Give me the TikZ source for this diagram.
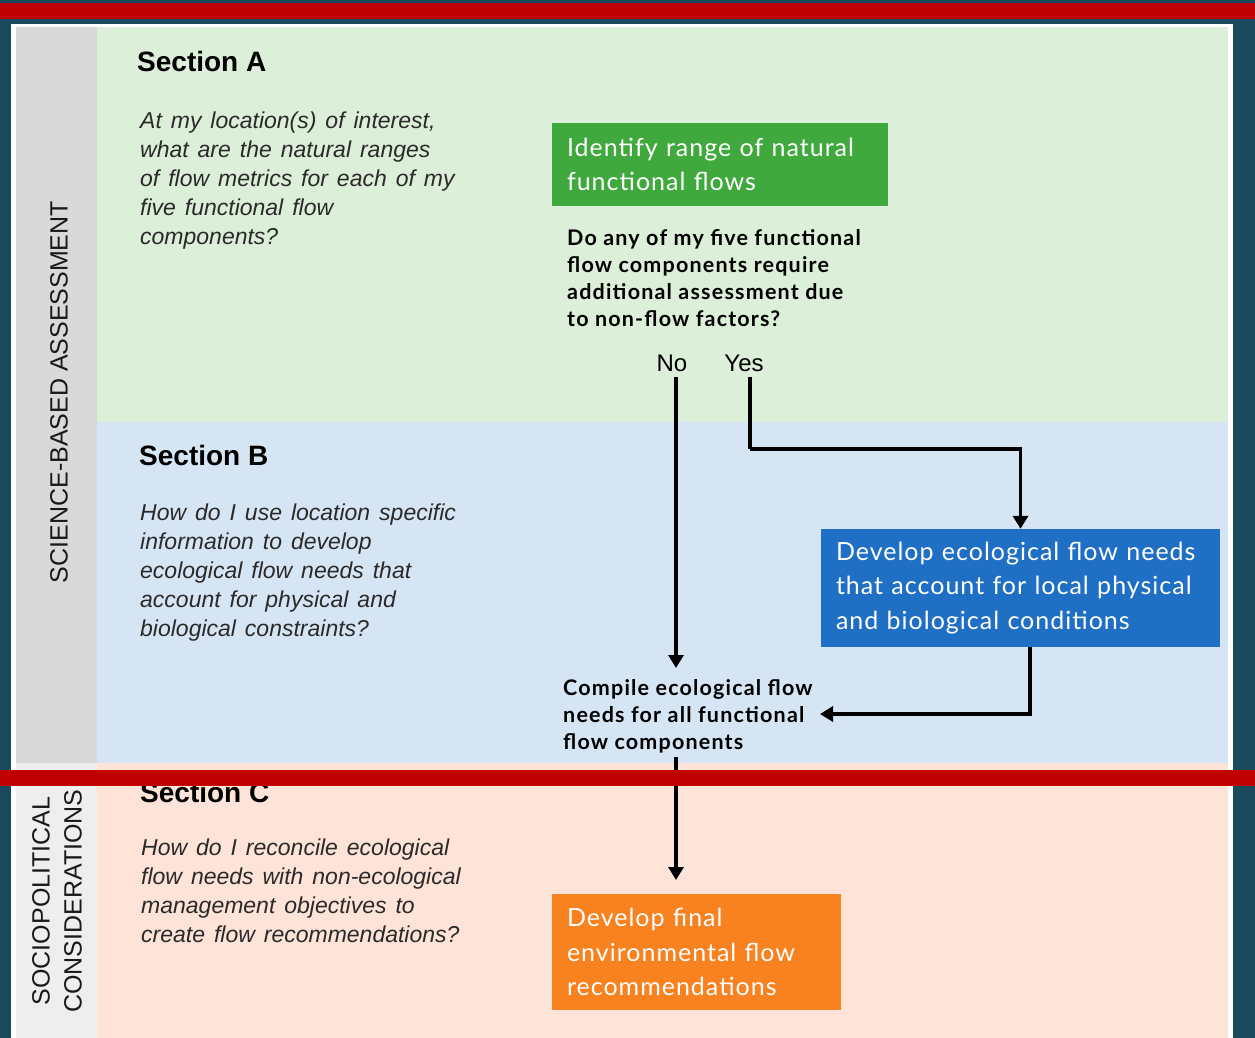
\documentclass[tikz,border=0pt]{standalone}
\usepackage{fontspec}
\setmainfont{Liberation Sans}
\newfontfamily\itfont{Liberation Sans}[WordSpace=1.4]
\newfontfamily\latofont{Lato}[LetterSpace=4]
\newfontfamily\latobold{Lato Bold}[LetterSpace=5.5]
\usetikzlibrary{arrows.meta}
\definecolor{bgteal}{HTML}{1B4A5E}
\definecolor{barred}{HTML}{C00000}
\definecolor{colgray}{HTML}{D9D9D9}
\definecolor{colgraylt}{HTML}{EEEEEF}
\definecolor{secA}{HTML}{DCEFD8}
\definecolor{secB}{HTML}{D6E5F4}
\definecolor{secC}{HTML}{FDE3D8}
\definecolor{boxgreen}{HTML}{40A93E}
\definecolor{boxblue}{HTML}{1F6FC5}
\definecolor{boxorange}{HTML}{F7821F}
\definecolor{txtgray}{HTML}{2A2A2A}
\begin{document}
\begin{tikzpicture}[x=1pt,y=-1pt,
  arr/.style={line width=3.6pt,-{Triangle[width=15pt,length=13pt]}},
  heading/.style={anchor=base west,inner sep=0pt,font=\fontsize{28}{32}\selectfont\bfseries},
  question/.style={anchor=north west,inner sep=0pt,align=left,text=txtgray,font=\itfont\fontsize{23}{29}\selectfont\itshape},
  decision/.style={anchor=north west,inner sep=0pt,align=left,font=\latobold\fontsize{21.5}{27}\selectfont},
  stepbox/.style={inner xsep=15pt,inner ysep=0pt,align=left,text=white,font=\latofont\fontsize{25}{34.5}\selectfont},
  sidelabel/.style={rotate=90,align=center,inner sep=0pt,text=black!90,font=\fontsize{25}{32}\selectfont},
  yesno/.style={anchor=base,inner sep=0pt,font=\fontsize{24}{28}\selectfont}]
\useasboundingbox (0,0) rectangle (1255,1038);
% background and panels
\fill[bgteal] (0,0) rectangle (1255,1038);
\fill[barred] (0,3) rectangle (1255,19);
\fill[white] (11,24) rectangle (1233,1038);
\fill[colgray] (16,27) rectangle (97,763);
\fill[colgraylt] (16,763) rectangle (97,1038);
\fill[secA] (97,27) rectangle (1228,422);
\fill[secB] (97,422) rectangle (1228,763);
\fill[secC] (97,763) rectangle (1228,1038);
% side labels
\node[sidelabel] (sci) at (59,392) {SCIENCE-BASED ASSESSMENT};
\node[sidelabel] (socio) at (57,901) {SOCIOPOLITICAL\\CONSIDERATIONS};
% section headings
\node[heading] (hA) at (137,72) {Section A};
\node[heading] (hB) at (139,465) {Section B};
\node[heading] (hC) at (140,802) {Section C};
% section questions
\node[question] (qA) at (140,107.7) {\strut At my location(s) of interest,\\what are the natural ranges\\of flow metrics for each of my\\five functional flow\\components?};
\node[question] (qB) at (140,499.7) {\strut How do I use location specific\\information to develop\\ecological flow needs that\\account for physical and\\biological constraints?};
\node[question] (qC) at (141,834.7) {\strut How do I reconcile ecological\\flow needs with non-ecological\\management objectives to\\create flow recommendations?};
% boxes
\node[stepbox,fill=boxgreen,minimum width=336pt,minimum height=83pt,text width=306pt] (identify) at (720,164.5) {Identify range of natural\\functional flows};
\node[stepbox,fill=boxblue,minimum width=399pt,minimum height=118pt,text width=369pt] (local) at (1020.5,588) {Develop ecological flow needs\\that account for local physical\\and biological conditions};
\node[stepbox,fill=boxorange,minimum width=289pt,minimum height=116pt,text width=259pt] (final) at (696.5,952) {Develop final\\environmental flow\\recommendations};
% decision texts
\node[decision] (ask) at (567,226) {\strut Do any of my five functional\\flow components require\\additional assessment due\\to non-flow factors?};
\node[yesno] (no) at (672,371) {No};
\node[yesno] (yes) at (744,371) {Yes};
\node[decision] (compile) at (563,676) {\strut Compile ecological flow\\needs for all functional\\flow components};
% connector helpers
\coordinate (noend) at (676,668);
\coordinate (yesbend) at (750,449);
\coordinate (bluestart) at (1030,647);
\coordinate (compin) at (820,714);
\coordinate (compout) at (676,757);
\coordinate (finalin) at (676,880);
% connectors
\draw[arr] (no.south -| noend) ++(0,6) -- (noend);
\draw[arr,-] (yes.south -| yesbend) ++(0,6) -- (yesbend);
\draw[arr] (yesbend) -| (local.north);
\draw[arr] (bluestart |- local.south) |- (compin);
\draw[arr] (compout) -- (finalin);
% middle red bar
\fill[barred] (0,770) rectangle (1255,786);
\end{tikzpicture}
\end{document}
